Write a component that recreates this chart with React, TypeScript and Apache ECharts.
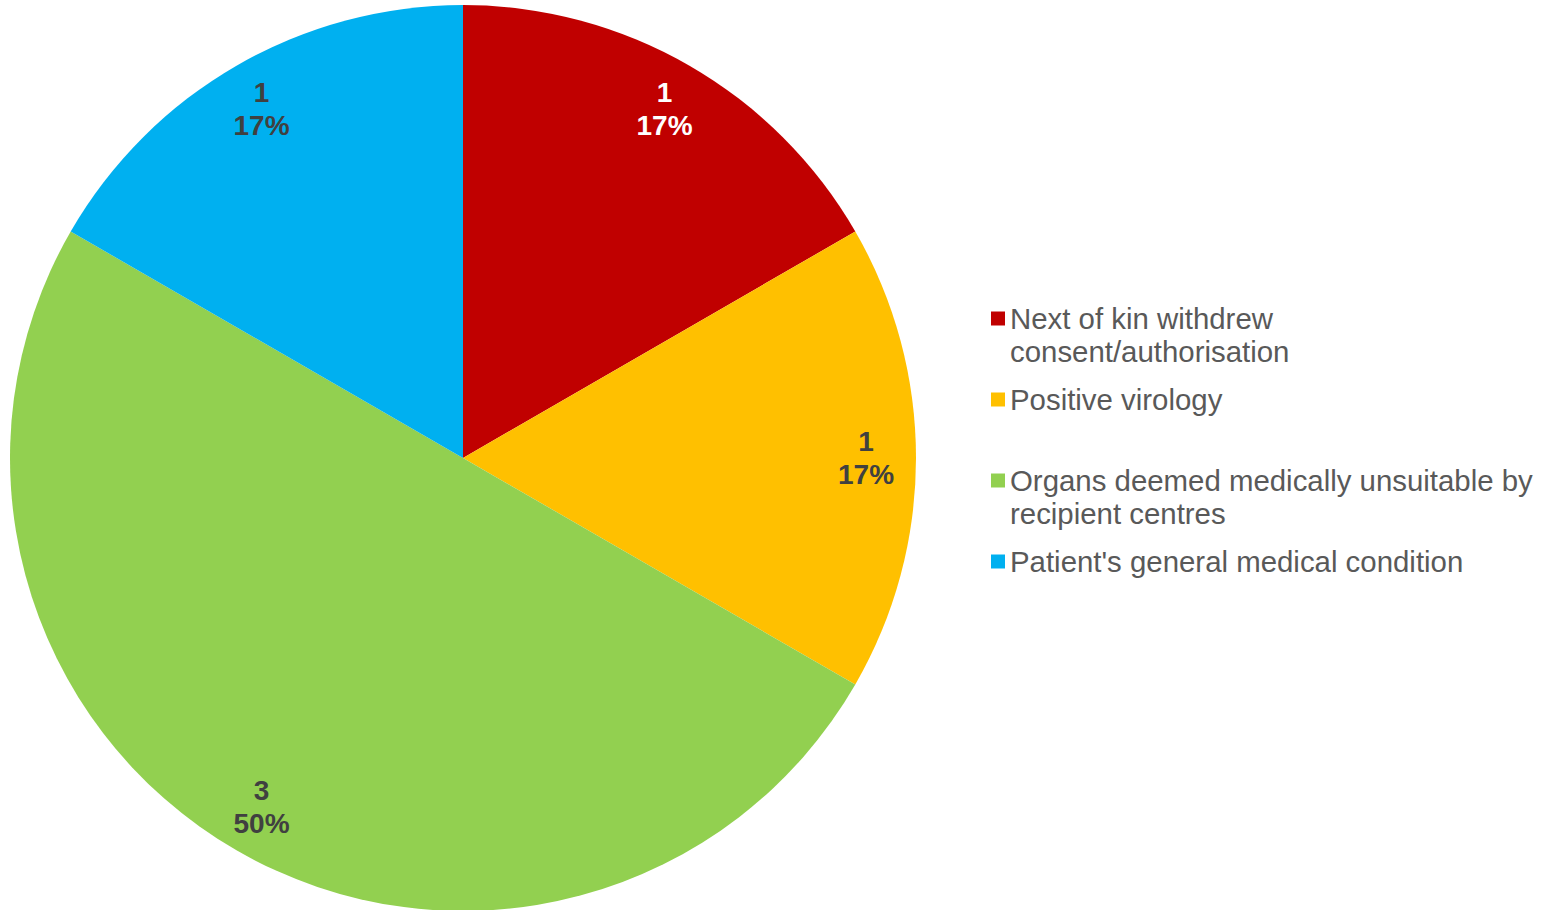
import React, { useEffect, useRef } from "react";
import * as echarts from "echarts";

const categories = [
  "Next of kin withdrew\nconsent/authorisation",
  "Positive virology",
  "Organs deemed medically unsuitable by\nrecipient centres",
  "Patient's general medical condition",
];
const values = [1, 1, 3, 1];
const colors = ["#C00000", "#FFC000", "#92D050", "#00B0F0"];
const labelColors = ["#FFFFFF", "#404040", "#404040", "#404040"];

export default function App() {
  const ref = useRef<HTMLDivElement>(null);
  useEffect(() => {
    document.body.style.margin = "0";
    const chart = echarts.init(ref.current!, null, { renderer: "svg" });
    const total = values.reduce((a, b) => a + b, 0);
    const font = "Arial, 'Liberation Sans', sans-serif";
    chart.setOption({
      animation: false,
      backgroundColor: "#FFFFFF",
      legend: {
        orient: "vertical",
        left: 991,
        top: 269,
        padding: 0,
        itemGap: 15,
        itemWidth: 14,
        itemHeight: 14,
        icon: "rect",
        selectedMode: false,
        data: categories,
        formatter: (name: string) => (name.indexOf("\n") >= 0 ? " \n" + name : name),
        textStyle: {
          fontFamily: font,
          fontSize: 29.4,
          lineHeight: 33,
          color: "#595959",
        },
      },
      series: [
        {
          type: "pie",
          center: [463, 458],
          radius: [0, 453],
          startAngle: 90,
          clockwise: true,
          label: { show: false },
          labelLine: { show: false },
          emphasis: { disabled: true },
          data: categories.map((name, i) => ({
            name,
            value: values[i],
            itemStyle: { color: colors[i] },
          })),
        },
        {
          type: "pie",
          center: [463, 458],
          radius: [347, 453],
          startAngle: 90,
          clockwise: true,
          silent: true,
          legendHoverLink: false,
          emphasis: { disabled: true },
          labelLine: { show: false },
          label: {
            show: true,
            position: "inside",
            fontFamily: font,
            fontSize: 28,
            fontWeight: "bold",
            lineHeight: 33,
            formatter: (p: any) => `${p.value}\n${Math.round((p.value / total) * 100)}%`,
          },
          data: categories.map((name, i) => ({
            name,
            value: values[i],
            itemStyle: { color: "rgba(0,0,0,0)" },
            label: { color: labelColors[i] },
          })),
        },
      ],
    });
    return () => chart.dispose();
  }, []);
  return <div ref={ref} style={{ width: 1543, height: 910 }} />;
}
